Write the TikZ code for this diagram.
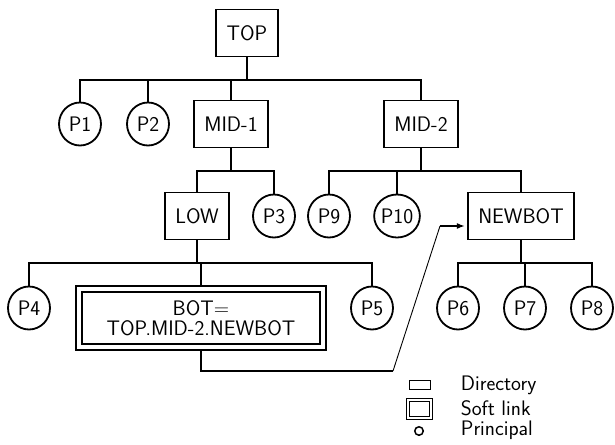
\documentclass[tikz,border=0pt]{standalone}
\usetikzlibrary{shapes.geometric,arrows.meta,positioning}
\begin{document}
\begin{tikzpicture}[x=1pt,y=-1pt,line width=1.8pt,
	font=\fontsize{21}{20}\selectfont\sffamily,
	dir/.style={draw, rectangle, minimum height=47pt, inner xsep=10.5pt},
	princ/.style={draw, ellipse, minimum width=42pt, minimum height=43pt, inner sep=0pt},
	link/.style={draw, double, double distance=4.4pt, outer sep=4pt, minimum width=244pt, minimum height=58pt, align=center, inner sep=0pt}]
	\useasboundingbox (0,0) rectangle (615,444);
	
	% Linhas dos barramentos
	\coordinate (bus1) at (0,80);
	\coordinate (bus2) at (0,171);
	\coordinate (bus3) at (0,263);
	
	% Diretorios e principais
	\node[dir] (top) at (247,33) {TOP};								% Raiz
	\node[princ] (p1) at (80,124) {P1};
	\node[princ] (p2) at (148,124) {P2};
	\node[dir] (mid1) at (231,124) {MID-1};
	\node[dir] (mid2) at (421,124) {MID-2};
	\node[dir] (low) at (197,216) {LOW};
	\node[princ] (p3) at (274,216) {P3};
	\node[princ] (p9) at (329,216) {P9};
	\node[princ] (p10) at (397,216) {P10};
	\node[dir] (newbot) at (521,216) {NEWBOT};
	\node[princ] (p4) at (29,308) {P4};
	\node[link] (bot) at (201,318) {BOT=\\TOP.MID-2.NEWBOT};		% Soft link
	\node[princ] (p5) at (372,308) {P5};
	\node[princ] (p6) at (458,308) {P6};
	\node[princ] (p7) at (525,308) {P7};
	\node[princ] (p8) at (592,308) {P8};
	
	% Ligacoes
	\draw (top.south) -- (top.south |- bus1);
	\draw (p1.north) |- (mid2.north |- bus1) -- (mid2.north);
	\draw (p2.north) -- (p2.north |- bus1);
	\draw (mid1.north) -- (mid1.north |- bus1);
	
	\draw (mid1.south) -- (mid1.south |- bus2);
	\draw (low.north) |- (p3.north |- bus2) -- (p3.north);
	\draw (mid2.south) -- (mid2.south |- bus2);
	\draw (p9.north) |- (newbot.north |- bus2) -- (newbot.north);
	\draw (p10.north) -- (p10.north |- bus2);
	
	\draw (low.south) -- (low.south |- bus3);
	\draw (p4.north) |- (p5.north |- bus3) -- (p5.north);
	\draw (bot.north) -- (bot.north |- bus3);
	\draw (newbot.south) -- (newbot.south |- bus3);
	\draw (p6.north) |- (p8.north |- bus3) -- (p8.north);
	\draw (p7.north) -- (p7.north |- bus3);
	
	% Seta do soft link
	\coordinate (k1) at (393,371);
	\coordinate (k2) at (440,226);
	\draw (bot.south) |- (k1);
	\draw[line width=0.9pt] (k1) -- (k2);
	\draw[line width=1.4pt, -{Latex[length=8pt,width=6pt]}, shorten >=2pt] (k2) -- (newbot.west |- k2);
	
	% Legenda
	\node[draw, line width=1.5pt, minimum width=21pt, minimum height=9pt, inner sep=0pt] (legdir) at (420,385) {};
	\node[draw, line width=1.5pt, double, double distance=1.4pt, minimum width=23pt, minimum height=18pt, inner sep=0pt] (leglink) at (419.5,409) {};
	\node[draw, line width=1.5pt, circle, minimum size=8.5pt, inner sep=0pt] (legprinc) at (419,431) {};
	\node[anchor=base west, inner sep=0pt] (txtdir) at (460,390) {Directory};
	\node[anchor=base west, inner sep=0pt] (txtlink) at (460,415) {Soft link};
	\node[anchor=base west, inner sep=0pt] (txtprinc) at (460,435) {Principal};
\end{tikzpicture}
\end{document}
